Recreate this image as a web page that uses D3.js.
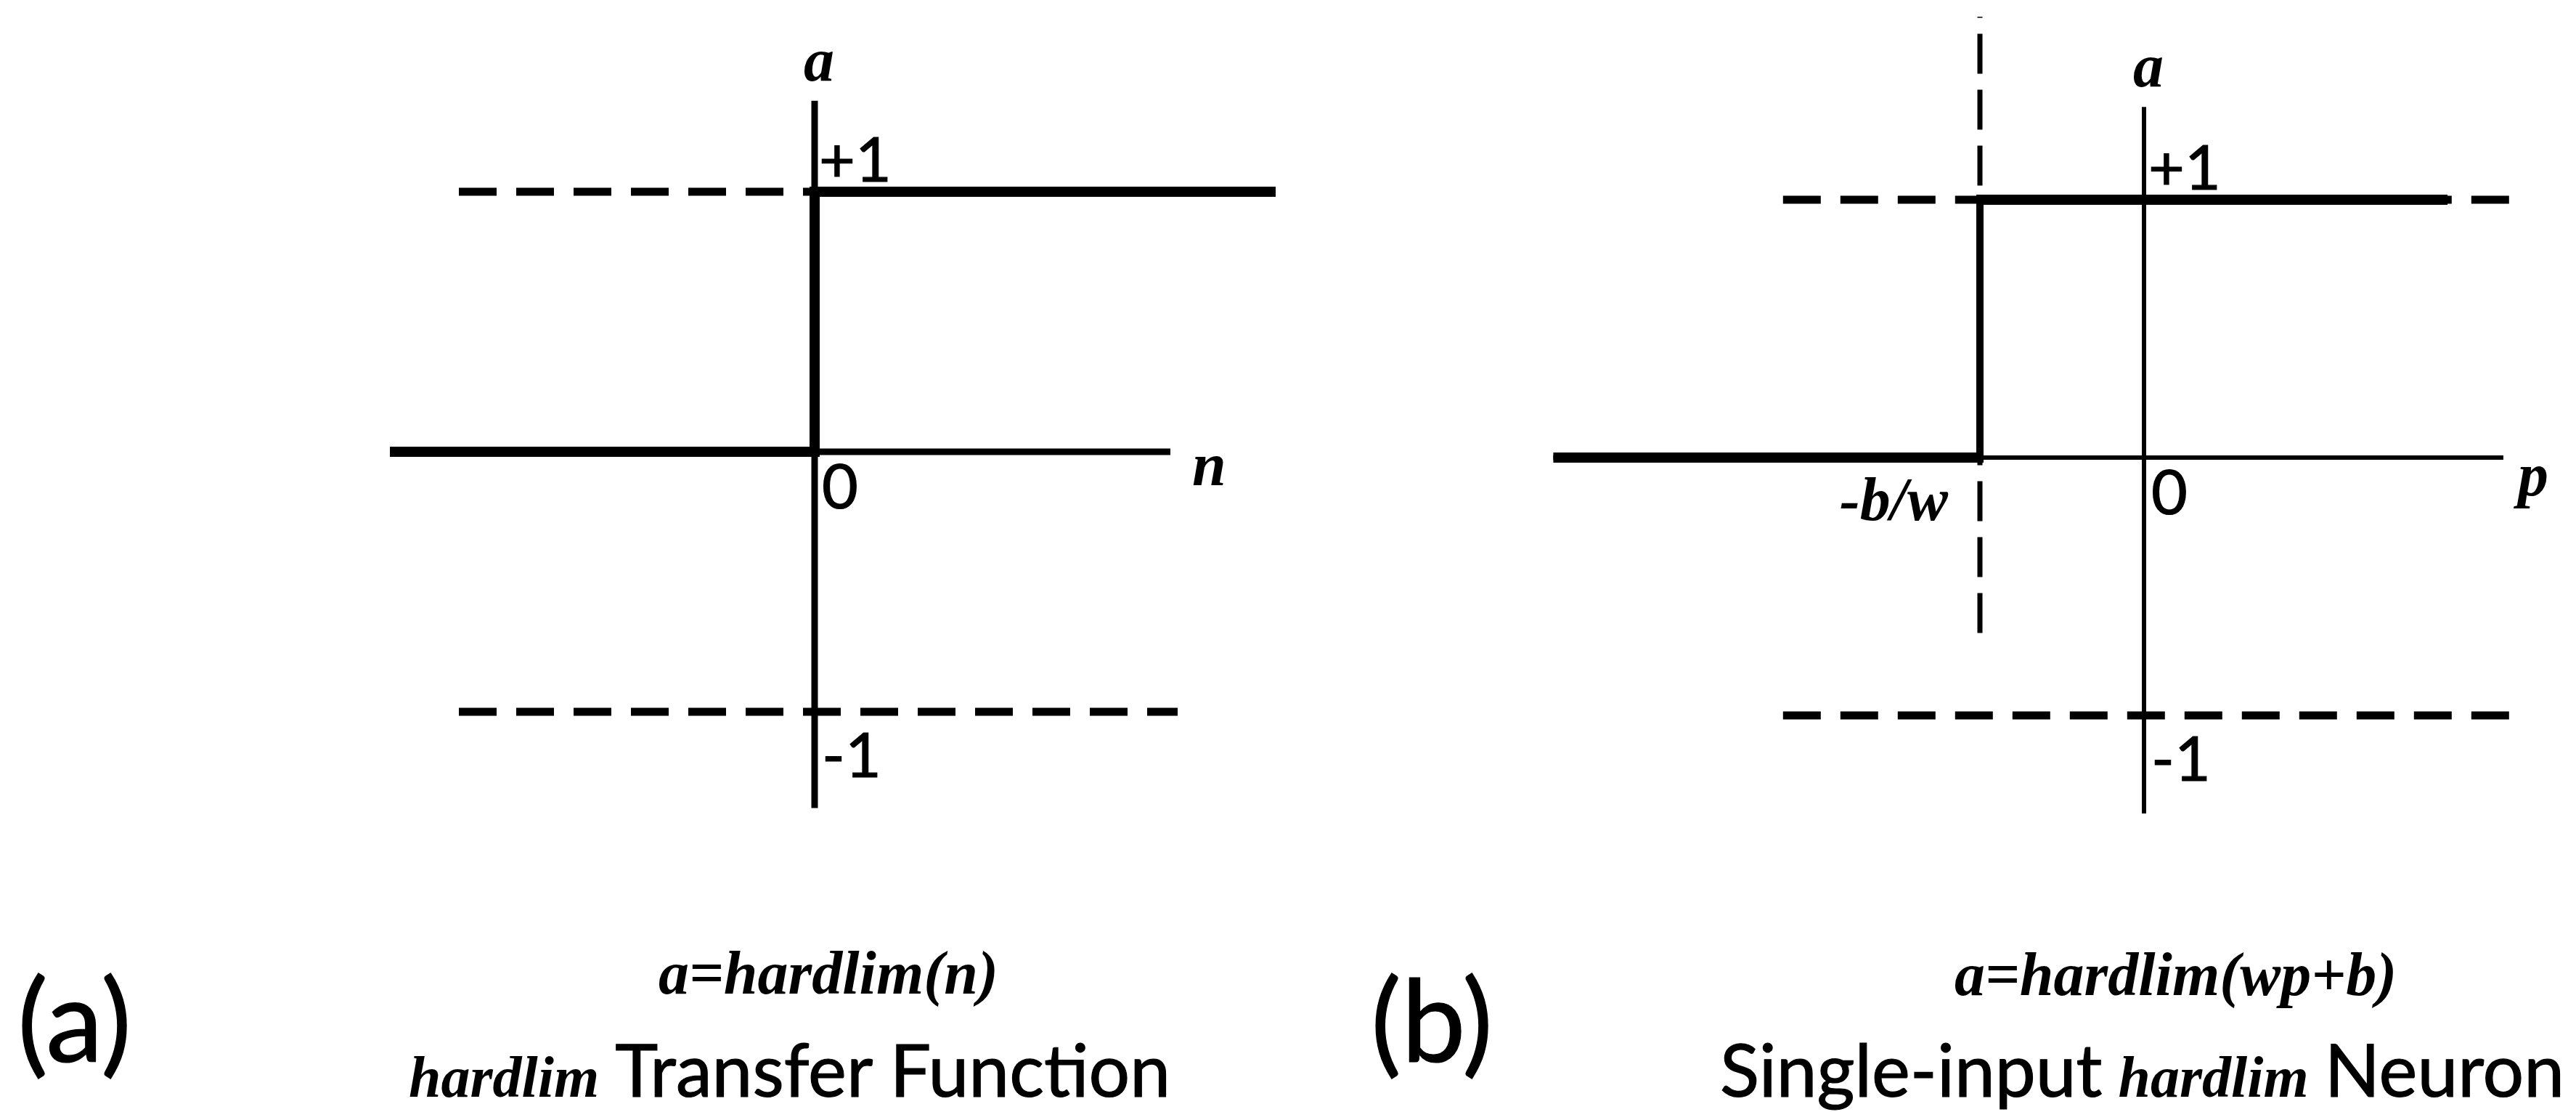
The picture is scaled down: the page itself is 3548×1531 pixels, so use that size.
<!DOCTYPE html>
<html>
<head>
<meta charset="utf-8">
<script src="https://cdn.jsdelivr.net/npm/d3@7"></script>
<style>
  html, body { margin: 0; padding: 0; background: #fff; }
  svg { display: block; }
</style>
</head>
<body>
<svg id="fig" width="3548" height="1531"></svg>
<script>
// (a) hardlim transfer function: a = 0 for n < 0, a = 1 for n >= 0
const transferN = [-1.17, 0, 0, 1.27];
const transferA = [0, 0, 1, 1];
// (b) single-input neuron a = hardlim(wp + b): the step sits at p = -b/w
const neuronP = [-3.6, -1, -1, 1.85];
const neuronA = [0, 0, 1, 1];
const thresholdP = -1;

// reference levels drawn as dashed guides, with their labels
const levelValues = [1, -1];
const levelLabels = ["+1", "-1"];
const originLabel = "0";

// axis extents in data units
const axisA = { x: [-1.17, 0.98], y: [-1.37, 1.35] };
const axisB = { x: [-3.6, 2.19], y: [-1.38, 1.36] };
// dashed guide extents: [from, to] for +1 and -1
const guideA = [[-0.98, 0], [-0.98, 1.0]];
const guideB = [[-2.2, 2.24], [-2.2, 2.25]];
const thresholdGuide = [-0.68, 1.71];

// text
const panelTags = ["(a)", "(b)"];
const equations = ["a=hardlim(n)", "a=hardlim(wp+b)"];
const inputNames = ["n", "p"];
const outputName = "a";
const thresholdLabel = "-b/w";
const captionA = ["hardlim", "Transfer Function"];
const captionB = ["Single-input", "hardlim", "Neuron"];

const SANS = "Lato, 'Open Sans', sans-serif";
const SERIF = "'Liberation Serif', 'DejaVu Serif', serif";
const MATH = 84;   // italic symbol size

const svg = d3.select("#fig");

// scales
const xA = d3.scaleLinear().domain([-1, 1]).range([622, 1622]);
const yA = d3.scaleLinear().domain([-1, 1]).range([980, 264]);
const xB = d3.scaleLinear().domain([-1, 1]).range([2727, 3179]);
const yB = d3.scaleLinear().domain([-1, 1]).range([985, 275]);

const DASH = "52,27";

function hline(g, x, y, x0, x1, v, w, dash) {
  g.append("line")
    .attr("x1", x(x0)).attr("x2", x(x1))
    .attr("y1", y(v)).attr("y2", y(v))
    .attr("stroke", "#000").attr("stroke-width", w)
    .attr("stroke-dasharray", dash || null);
}
function vline(g, x, y, u, y0, y1, w, dash) {
  g.append("line")
    .attr("x1", x(u)).attr("x2", x(u))
    .attr("y1", y(y0)).attr("y2", y(y1))
    .attr("stroke", "#000").attr("stroke-width", w)
    .attr("stroke-dasharray", dash || null);
}
function sans(g, px, py, str, size) {
  return g.append("text")
    .attr("x", px).attr("y", py)
    .attr("font-family", SANS).attr("font-size", size || 86)
    .attr("stroke", "#000").attr("stroke-width", 1.2)
    .text(str);
}
function math(g, px, py, str, anchor, size) {
  return g.append("text")
    .attr("x", px).attr("y", py)
    .attr("text-anchor", anchor || "start")
    .attr("font-family", SERIF).attr("font-style", "italic").attr("font-weight", "bold")
    .attr("font-size", size || MATH)
    .text(str);
}
// a caption line mixing sans words with an italic function name
function caption(g, px, py, parts, anchor) {
  const t = g.append("text")
    .attr("x", px).attr("y", py)
    .attr("text-anchor", anchor)
    .attr("font-size", 100);
  parts.forEach((p, i) => {
    const s = t.append("tspan").attr("dx", i ? 22 : 0).text(p.text);
    if (p.italic) {
      s.attr("font-family", SERIF).attr("font-style", "italic")
        .attr("font-weight", "bold").attr("font-size", 80);
    } else {
      s.attr("font-family", SANS).attr("stroke", "#000").attr("stroke-width", 1.2);
    }
  });
  return t;
}

function drawPanel(opt) {
  const { x, y, axis, guides, stepX, stepY, axisW, riserW, inputName } = opt;
  const g = svg.append("g");

  // dashed +1 / -1 guides
  levelValues.forEach((v, i) => hline(g, x, y, guides[i][0], guides[i][1], v, 11, DASH));

  // axes
  hline(g, x, y, axis.x[0], axis.x[1], 0, axisW);
  vline(g, x, y, 0, axis.y[0], axis.y[1], axisW);

  // threshold guide (panel b)
  if (opt.threshold) {
    vline(g, x, y, thresholdP, thresholdGuide[0], thresholdGuide[1], 7, "55,22");
  }

  // hard-limit step: low and high plateaus, then the riser between them
  const pts = d3.zip(stepX, stepY);
  const line = d3.line().x(d => x(d[0])).y(d => y(d[1]));
  [pts.slice(0, 2), pts.slice(2, 4)].forEach(seg => {
    g.append("path").datum(seg).attr("d", line)
      .attr("fill", "none").attr("stroke", "#000").attr("stroke-width", 14);
  });
  g.append("line")
    .attr("x1", x(stepX[1])).attr("x2", x(stepX[2]))
    .attr("y1", y(stepY[1]) + 7).attr("y2", y(stepY[2]) - 7)
    .attr("stroke", "#000").attr("stroke-width", riserW);

  // axis names
  math(g, x(0) + 6, y(axis.y[1]) - 28, outputName, "middle");
  math(g, x(axis.x[1]) + opt.inputDx, y(0) + opt.inputDy, inputName);

  // level labels
  sans(g, x(0) + 6, y(levelValues[0]) - 14, levelLabels[0]);
  sans(g, x(0) + 10, y(0) + 78, originLabel);
  sans(g, x(0) + 10, y(levelValues[1]) + 90, levelLabels[1]);

  if (opt.threshold) {
    math(g, x(thresholdP) - 44, y(0) + 86, thresholdLabel, "end");
  }
  return g;
}

drawPanel({ x: xA, y: yA, axis: axisA, guides: guideA, stepX: transferN, stepY: transferA,
            axisW: 9, riserW: 14, inputName: inputNames[0], inputDx: 30, inputDy: 46 });
drawPanel({ x: xB, y: yB, axis: axisB, guides: guideB, stepX: neuronP, stepY: neuronA,
            axisW: 6, riserW: 10, inputName: inputNames[1], inputDx: 20, inputDy: 52,
            threshold: true });

// captions
const caps = svg.append("g");
sans(caps, 24, 1462, panelTags[0], 158);
sans(caps, 1888, 1462, panelTags[1], 158);

math(caps, 907, 1368, equations[0]);
math(caps, 2692, 1370, equations[1]);

caption(caps, 1612, 1510,
  [{ text: captionA[0], italic: true }, { text: captionA[1] }], "end");
caption(caps, 3532, 1510,
  [{ text: captionB[0] }, { text: captionB[1], italic: true }, { text: captionB[2] }], "end");
</script>
</body>
</html>
